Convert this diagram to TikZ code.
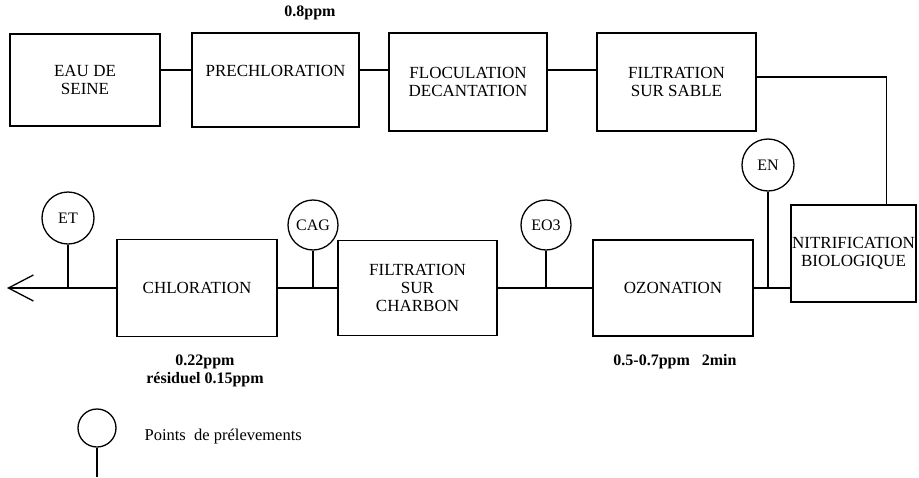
\documentclass[tikz,border=0pt]{standalone}
\usepackage{fontspec}
\setmainfont{Liberation Serif}
\usetikzlibrary{arrows.meta,positioning}

\begin{document}
\begin{tikzpicture}[
  x=1pt, y=-1pt,
  font=\fontsize{17}{18}\selectfont,
  line width=1.3pt,
  box/.style={draw, align=center, inner sep=1pt},
  probe/.style={draw, circle, minimum size=52pt, inner sep=0pt, font=\fontsize{16}{17}\selectfont},
  dose/.style={align=center, font=\fontsize{16}{18}\selectfont\bfseries},
  arrow/.style={-{Straight Barb[length=25pt, width=26pt]}}
]
  \useasboundingbox (0,0) rectangle (919,477);

  \node[box, minimum width=150pt, minimum height=92pt] (seine) at (85,80) {EAU DE\\SEINE};
  \node[box, minimum width=167pt, minimum height=94pt] (prechlor) at (275.5,80) {PRECHLORATION\\\mbox{}};
  \node[box, minimum width=158pt, minimum height=98pt] (floc) at (468,82) {FLOCULATION\\DECANTATION};
  \node[box, minimum width=159pt, minimum height=98pt] (sable) at (676.5,82) {FILTRATION\\SUR SABLE};
  \node[box, minimum width=123pt, minimum height=97pt] (nitri) at (853.5,253.5) {NITRIFICATION\\BIOLOGIQUE};
  \node[box, minimum width=160pt, minimum height=96pt] (ozon) at (673,288) {OZONATION};
  \node[box, minimum width=159pt, minimum height=95pt] (charbon) at (417.5,288) {FILTRATION\\SUR\\CHARBON};
  \node[box, minimum width=160pt, minimum height=97pt] (chlor) at (197,288) {CHLORATION};
  \coordinate (out) at (7,288);

  \node[probe] (en) at (768,165) {EN};
  \node[probe, minimum size=50pt] (eo3) at (546,225) {EO3};
  \node[probe, minimum size=50pt] (cag) at (313,225) {CAG};
  \node[probe] (et) at (68,218) {ET};

  \draw ([yshift=10pt]seine.east) -- ([yshift=10pt]seine.east -| prechlor.west);
  \draw ([yshift=10pt]prechlor.east) -- ([yshift=10pt]prechlor.east -| floc.west);
  \draw ([yshift=12pt]floc.east) -- ([yshift=12pt]sable.west);
  \draw ([yshift=5pt]sable.east) -| ([xshift=33pt]nitri.north);
  \draw (nitri.west |- ozon.east) -- (ozon.east);
  \draw (ozon.west) -- (charbon.east);
  \draw (charbon.west) -- (chlor.east);
  \draw[arrow] (chlor.west) -- (out);

  \draw (en.south) -- (en.south |- ozon.east);
  \draw (eo3.south) -- (eo3.south |- ozon.west);
  \draw (cag.south) -- (cag.south |- chlor.east);
  \draw (et.south) -- (et.south |- chlor.west);

  \node[dose] (predose) at (310,13) {0.8ppm};
  \node[dose] (chlordose) at (205,371) {0.22ppm\\résiduel 0.15ppm};
  \node[dose] (ozondose) at (675,362) {0.5-0.7ppm~~~2min};

  \node[probe, minimum size=38pt] (legend) at (97,428) {};
  \coordinate (legendfoot) at (97,477);
  \draw (legend.south) -- (legendfoot);
  \node[anchor=west, font=\fontsize{16.5}{18}\selectfont, right=24pt of legend, yshift=-9pt] (legendtext) {Points~~de prélevements};
\end{tikzpicture}
\end{document}
